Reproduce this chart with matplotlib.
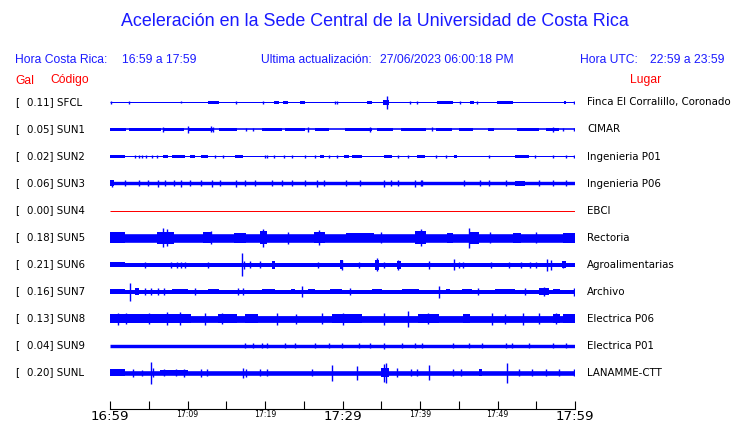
import matplotlib
matplotlib.use('Agg')
import matplotlib.pyplot as plt

# station data (amplitudes, in pixel-like units; times in minutes after 16:59)
stations = ['SFCL', 'SUN1', 'SUN2', 'SUN3', 'SUN4', 'SUN5', 'SUN6', 'SUN7', 'SUN8', 'SUN9', 'SUNL']
peaks = ['0.11', '0.05', '0.02', '0.06', '0.00', '0.18', '0.21', '0.16', '0.13', '0.04', '0.20']
places = ['Finca El Corralillo, Coronado', 'CIMAR', 'Ingenieria P01', 'Ingenieria P06', 'EBCI',
          'Rectoria', 'Agroalimentarias', 'Archivo', 'Electrica P06', 'Electrica P01', 'LANAMME-CTT']
base = [0.5, 0.8, 0.5, 1.7, 0.5, 4.3, 2.0, 2.0, 3.4, 1.7, 2.3]

# bursty segments: (start, end, half amplitude)
sfcl_segs = [(12.7, 14.0, 1.5), (21.2, 21.8, 1.5), (22.3, 23.0, 1.5), (24.5, 25.2, 1.5), (33.1, 33.8, 1.8),
             (35.2, 36.0, 2.5), (42.2, 44.3, 1.5), (46.5, 47.0, 1.5), (49.9, 52.0, 1.5), (58.6, 58.9, 1.5)]
sun1_segs = [(0, 2.0, 1.7), (2.5, 6.6, 1.7), (6.9, 9.6, 1.7), (10.2, 13.4, 1.7), (14.0, 16.4, 1.7),
             (19.6, 22.2, 1.7), (22.6, 25.2, 1.7), (26.5, 28.3, 1.7), (30.3, 33.8, 1.7), (34.5, 36.5, 1.7),
             (37.5, 40.8, 1.7), (42.0, 44.1, 1.7), (45.0, 46.9, 1.7), (48.8, 49.6, 1.7), (52.5, 55.4, 1.7),
             (56.2, 57.9, 1.7)]
sun2_segs = [(0, 1.9, 1.3), (6.9, 7.5, 1.3), (8.0, 9.7, 1.3), (10.3, 11.0, 1.3), (11.8, 12.7, 1.3),
             (16.1, 17.2, 1.3), (27.1, 27.6, 1.3), (30.2, 30.8, 1.3), (31.2, 32.5, 1.3), (35.3, 36.4, 1.3),
             (39.6, 40.6, 1.3), (44.4, 44.8, 1.3), (52.3, 54.0, 1.3)]
sun3_segs = [(0, 0.5, 3.0), (52.3, 53.6, 2.8)]
sun4_segs = []
sun5_segs = [(0, 1.9, 5.2), (6.0, 8.2, 6.0), (12.0, 13.0, 5.3), (16.0, 17.5, 5.0), (19.4, 20.3, 6.5),
             (26.3, 27.8, 5.8), (30.5, 34.0, 4.9), (39.3, 40.8, 6.2), (43.5, 44.2, 5.0), (46.5, 47.6, 6.0),
             (52.0, 53.0, 5.0), (58.5, 60.0, 5.0)]
sun6_segs = [(0, 1.9, 2.8), (20.9, 21.3, 4.0), (29.7, 30.1, 4.5), (34.2, 34.7, 5.0), (37.0, 37.5, 4.0),
             (58.3, 58.8, 3.3)]
sun7_segs = [(0, 1.9, 2.8), (3.2, 3.7, 3.3), (8.0, 10.0, 2.8), (12.7, 14.0, 2.8), (19.6, 21.3, 2.8),
             (23.3, 23.9, 2.8), (25.6, 26.5, 2.8), (28.4, 29.9, 2.8), (33.8, 35.1, 2.8), (37.7, 39.9, 2.8),
             (43.3, 43.9, 2.8), (45.4, 46.7, 2.8), (49.7, 52.3, 2.8), (55.4, 56.6, 3.6), (57.1, 58.0, 2.8)]
sun8_segs = [(0, 3.5, 4.5), (3.5, 10.5, 4.1), (13.9, 16.4, 4.4), (17.4, 19.1, 4.2), (28.6, 32.5, 4.5),
             (39.7, 42.5, 4.4), (45.6, 46.5, 4.2), (57.1, 58.0, 4.5), (58.5, 60.0, 4.1)]
sun9_segs = []
sunl_segs = [(0, 1.9, 3.7), (6.5, 10.0, 2.9), (35.0, 36.0, 4.5), (47.6, 48.0, 3.3)]

# single spikes: (time, half amplitude)
sfcl_spikes = [(0.1, 1.2), (2.45, 1.5), (9.2, 1.0), (16.3, 1.5), (19.7, 1.5), (29.0, 1.2), (29.3, 1.2),
               (35.8, 6.5), (38.7, 1.2), (39.6, 1.2), (45.1, 1.2), (47.4, 1.2), (59.9, 1.5)]
sun1_spikes = [(6.9, 2.5), (10.1, 3.5), (13.0, 3.0), (13.3, 2.5), (17.5, 1.5), (18.5, 1.5), (25.5, 2.5),
               (33.5, 2.5), (41.5, 2.0), (57.2, 2.5), (58.5, 1.3), (59.9, 1.3)]
sun2_spikes = [(3.2, 1.3), (3.7, 1.3), (4.1, 1.3), (4.7, 1.3), (5.4, 1.3), (6.0, 1.3), (13.5, 1.3),
               (14.6, 1.3), (20.0, 1.3), (20.3, 1.3), (21.1, 1.3), (22.4, 1.3), (23.5, 1.3), (25.2, 1.3),
               (26.5, 1.3), (28.2, 1.3), (29.3, 1.3), (37.2, 1.3), (38.5, 1.3), (42.0, 1.3), (43.3, 1.3),
               (48.9, 1.3), (54.9, 1.3), (57.1, 1.3), (58.8, 1.3), (59.9, 1.3)]
sun3_spikes = [(0.2, 3.2), (1.9, 3.0), (3.7, 3.0), (4.9, 3.0), (6.2, 3.2), (7.1, 3.0), (8.2, 3.0),
               (9.2, 3.2), (10.3, 3.0), (11.8, 3.0), (13.1, 3.2), (14.2, 3.0), (16.3, 3.6), (17.4, 3.0),
               (18.7, 3.0), (20.9, 3.0), (22.2, 3.0), (23.5, 3.0), (25.2, 3.0), (26.7, 3.2), (27.6, 3.0),
               (30.4, 3.0), (32.3, 3.0), (35.3, 3.4), (36.2, 3.0), (37.2, 3.0), (39.4, 3.2), (40.3, 3.0),
               (40.1, 3.0), (45.7, 3.0), (47.8, 3.0), (48.9, 3.0), (51.1, 3.0), (55.4, 3.0), (57.1, 3.0),
               (58.8, 3.0)]
sun4_spikes = []
sun5_spikes = [(6.9, 9.5), (7.3, 8.5), (13.0, 6.5), (19.8, 9.0), (23.0, 6.0), (27.0, 7.5), (35.0, 5.5),
               (40.1, 8.5), (46.3, 10.0), (49.0, 5.5), (55.0, 5.5)]
sun6_spikes = [(4.5, 3.0), (7.9, 3.0), (8.6, 3.0), (9.2, 3.0), (9.7, 3.0), (12.7, 3.0), (17.0, 11.5),
               (17.3, 4.0), (18.0, 3.5), (19.4, 3.5), (26.9, 3.0), (29.9, 5.0), (32.1, 3.0), (34.4, 6.5),
               (35.3, 3.0), (37.2, 5.0), (41.2, 4.0), (44.4, 5.5), (45.0, 3.0), (45.5, 3.0), (49.2, 3.0),
               (51.5, 3.0), (53.0, 3.0), (54.2, 3.0), (55.0, 3.0), (56.4, 6.0), (56.9, 5.0), (58.5, 3.5)]
sun7_spikes = [(2.6, 9.0), (4.5, 3.5), (5.3, 3.5), (6.2, 3.5), (7.0, 3.5), (11.0, 3.5), (16.5, 3.5),
               (17.2, 3.5), (24.8, 5.5), (31.0, 3.5), (42.5, 6.0), (47.5, 3.5), (53.5, 3.5), (56.0, 4.5),
               (59.9, 4.0)]
sun8_spikes = [(1.0, 6.0), (2.0, 5.5), (5.0, 5.5), (7.3, 6.5), (9.0, 6.5), (12.3, 6.0), (14.5, 5.5),
               (21.5, 6.0), (24.0, 5.0), (27.4, 5.5), (30.0, 6.0), (35.3, 6.0), (38.5, 8.0), (41.0, 5.5),
               (49.3, 6.0), (51.0, 5.0), (53.3, 6.0), (55.4, 5.5), (57.5, 5.5)]
sun9_spikes = [(17.4, 2.3), (18.5, 2.3), (19.6, 2.3), (20.3, 2.3), (22.6, 2.3), (23.9, 2.3), (26.5, 2.3),
               (28.2, 2.3), (29.9, 2.3), (32.1, 2.3), (33.6, 2.3), (35.3, 3.0), (37.7, 2.3), (39.4, 2.3),
               (40.3, 2.3), (44.2, 2.3), (46.3, 2.3), (48.0, 2.3), (51.1, 2.3), (51.9, 2.3), (54.1, 2.3),
               (57.1, 2.3), (58.8, 2.3)]
sunl_spikes = [(3.0, 4.0), (4.1, 3.0), (5.25, 11.0), (5.5, 4.5), (7.0, 3.5), (8.5, 3.5), (9.5, 4.0),
               (11.8, 4.0), (12.5, 3.5), (17.2, 5.0), (17.6, 4.0), (19.4, 3.5), (20.3, 3.5), (26.1, 3.5),
               (28.6, 8.0), (31.9, 7.0), (35.3, 9.0), (35.6, 10.0), (37.0, 4.5), (38.8, 3.5), (39.6, 3.5),
               (41.2, 7.5), (44.2, 3.5), (45.3, 3.5), (51.2, 10.0), (52.8, 3.5), (54.5, 3.5), (56.2, 3.5),
               (57.9, 3.5), (59.9, 3.5)]

all_segs = [sfcl_segs, sun1_segs, sun2_segs, sun3_segs, sun4_segs, sun5_segs,
            sun6_segs, sun7_segs, sun8_segs, sun9_segs, sunl_segs]
all_spikes = [sfcl_spikes, sun1_spikes, sun2_spikes, sun3_spikes, sun4_spikes, sun5_spikes,
              sun6_spikes, sun7_spikes, sun8_spikes, sun9_spikes, sunl_spikes]

tick_times = list(range(0, 61, 5))
tick_labels = ['16:59', '', '17:09', '', '17:19', '', '17:29', '', '17:39', '', '17:49', '', '17:59']

W, H = 740, 423
BLUE = '#0000ff'
HEAD = '#1a1aff'
PT = 0.72  # points per pixel at 100 dpi


def fx(x):
    return x / W


def fy(y):
    return 1 - y / H


fig = plt.figure(figsize=(7.4, 4.23), dpi=100)
ax = fig.add_axes([fx(110), fy(409), 465 / W, (409 - 88) / H])
ax.set_xlim(0, 60)
ax.set_ylim(409, 88)

for i, name in enumerate(stations):
    yc = 102.5 + 27 * i  # centred on a pixel row so thin lines stay crisp
    color = 'red' if name == 'SUN4' else BLUE
    # continuous background band of the trace
    ax.hlines(yc, 0, 60, colors=color, lw=max(1.0, 2 * base[i]) * PT, capstyle='butt')
    for t0, t1, a in all_segs[i]:
        ax.broken_barh([(t0, t1 - t0)], (yc - a, 2 * a), facecolors=color, edgecolor='none')
    if all_spikes[i]:
        ts = [s[0] for s in all_spikes[i]]
        amps = [s[1] for s in all_spikes[i]]
        ax.vlines(ts, [yc - a for a in amps], [yc + a for a in amps], colors=color, lw=1.0)

    fig.text(fx(15), fy(yc), '[', fontsize=7.4, va='center', ha='left', family='DejaVu Sans')
    fig.text(fx(27), fy(yc), peaks[i] + '] ' + name, fontsize=7.4, va='center', ha='left',
             family='DejaVu Sans')
    fig.text(fx(587), fy(yc), places[i], fontsize=7.4, va='center', ha='left', family='DejaVu Sans')

for s in ['top', 'left', 'right']:
    ax.spines[s].set_visible(False)
ax.spines['bottom'].set_linewidth(0.8)
ax.set_yticks([])
ax.set_xticks(tick_times)
ax.set_xticklabels(tick_labels)
ax.tick_params(axis='x', direction='in', length=6, width=0.8, pad=0.8)
for j, lab in enumerate(ax.get_xticklabels()):
    lab.set_fontsize(9.6 if j in (0, 6, 12) else 5.6)
    lab.set_family('DejaVu Sans')

font = 'Liberation Sans'
fig.text(fx(375), fy(22), 'Aceleración en la Sede Central de la Universidad de Costa Rica',
         fontsize=12.9, color=HEAD, ha='center', va='center', family=font)
fig.text(fx(15), fy(60), 'Hora Costa Rica:', fontsize=8.7, color=HEAD, va='center', family=font)
fig.text(fx(122), fy(60), '16:59 a 17:59', fontsize=8.7, color=HEAD, va='center', family=font)
fig.text(fx(261), fy(60), 'Ultima actualización:', fontsize=8.7, color=HEAD, va='center', family=font)
fig.text(fx(380), fy(60), '27/06/2023 06:00:18 PM', fontsize=8.7, color=HEAD, va='center', family=font)
fig.text(fx(580), fy(60), 'Hora UTC:', fontsize=8.7, color=HEAD, va='center', family=font)
fig.text(fx(650), fy(60), '22:59 a 23:59', fontsize=8.7, color=HEAD, va='center', family=font)
fig.text(fx(15), fy(80.5), 'Gal', fontsize=8.7, color='red', va='center', family=font)
fig.text(fx(50), fy(80.5), 'Código', fontsize=8.7, color='red', va='center', family=font)
fig.text(fx(630), fy(80.5), 'Lugar', fontsize=8.7, color='red', va='center', family=font)

fig.savefig('out.png', dpi=100)
